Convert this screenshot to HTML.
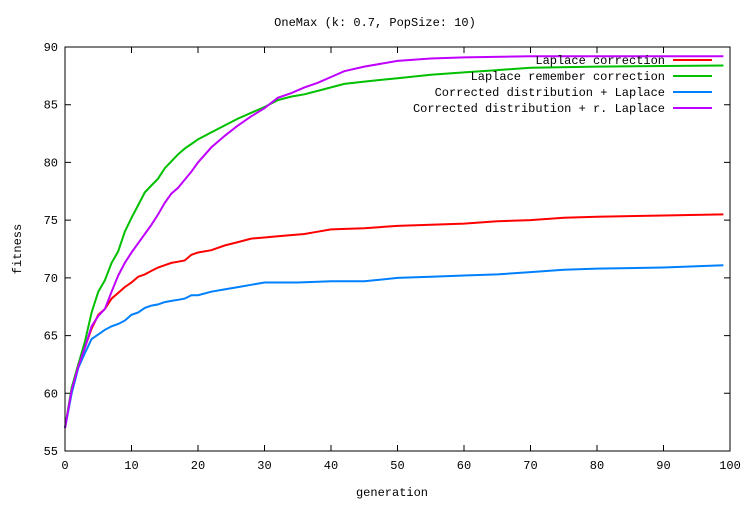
<!DOCTYPE html>
<html><head><meta charset="utf-8"><style>
body{margin:0;background:#fff}
svg text{font-family:"Liberation Mono","DejaVu Sans Mono",monospace;font-size:12px;fill:#000}
</style></head><body>
<svg id="chart" width="750" height="500">
<text x="375" y="26" text-anchor="middle">OneMax (k: 0.7, PopSize: 10)</text>
<g id="axes"></g><g id="series"></g><g id="legend"></g>
<rect x="65" y="47" width="665" height="404" fill="none" stroke="#000" stroke-width="1"/>
<text x="392" y="496" text-anchor="middle">generation</text>
<text transform="translate(21,249) rotate(-90)" text-anchor="middle">fitness</text>
</svg>
<script>
const xTicks=[0,10,20,30,40,50,60,70,80,90,100];
const yTicks=[55,60,65,70,75,80,85,90];
const seriesNames=["Laplace correction","Laplace remember correction","Corrected distribution + Laplace","Corrected distribution + r. Laplace"];
const seriesColors=["#ff0000","#00c000","#0080ff","#c000ff"];
const redGen=[0,1,2,3,4,5,6,7,8,9,10,11,12,13,14,15,16,17,18,19,20,22,24,26,28,30,32,34,36,38,40,45,50,55,60,65,70,75,80,90,99];
const redVal=[57,60.2,62.5,64,65.6,66.8,67.3,68.2,68.7,69.2,69.6,70.1,70.3,70.6,70.9,71.1,71.3,71.4,71.5,72,72.2,72.4,72.8,73.1,73.4,73.5,73.6,73.7,73.8,74,74.2,74.3,74.5,74.6,74.7,74.9,75,75.2,75.3,75.4,75.5];
const greenGen=[0,1,2,3,4,5,6,7,8,9,10,11,12,13,14,15,16,17,18,19,20,22,24,26,28,30,32,34,36,38,40,42,45,50,55,60,65,70,80,99];
const greenVal=[57,60.5,62.5,64.5,67,68.8,69.8,71.3,72.3,74,75.2,76.3,77.4,78,78.6,79.5,80.1,80.7,81.2,81.6,82,82.6,83.2,83.8,84.3,84.8,85.4,85.7,85.9,86.2,86.5,86.8,87,87.3,87.6,87.8,88,88.2,88.3,88.4];
const blueGen=[0,1,2,3,4,5,6,7,8,9,10,11,12,13,14,15,16,17,18,19,20,22,24,26,28,30,35,40,45,50,55,60,65,70,75,80,90,99];
const blueVal=[57,60,62.2,63.5,64.7,65.1,65.5,65.8,66,66.3,66.8,67,67.4,67.6,67.7,67.9,68,68.1,68.2,68.5,68.5,68.8,69,69.2,69.4,69.6,69.6,69.7,69.7,70,70.1,70.2,70.3,70.5,70.7,70.8,70.9,71.1];
const purpleGen=[0,1,2,3,4,5,6,7,8,9,10,11,12,13,14,15,16,17,18,19,20,22,24,26,28,30,32,34,36,38,40,42,45,50,55,60,70,99];
const purpleVal=[57,60.3,62.3,64,65.8,66.7,67.3,68.8,70.2,71.3,72.2,73,73.8,74.6,75.5,76.5,77.3,77.8,78.5,79.2,80,81.3,82.3,83.2,84,84.7,85.6,86,86.5,86.9,87.4,87.9,88.3,88.8,89,89.1,89.2,89.2];

const NS="http://www.w3.org/2000/svg";
const X0=65,X1=730,Y0=451,Y1=47;
const xs=v=>X0+(v-0)/(100-0)*(X1-X0);
const ys=v=>Y0-(v-55)/(90-55)*(Y0-Y1);
function mk(t,a,p){const e=document.createElementNS(NS,t);for(const k in a)e.setAttribute(k,a[k]);p.appendChild(e);return e;}
const axes=document.getElementById('axes');
xTicks.forEach(t=>{
  const x=xs(t);
  const l=mk('path',{d:`M${x},${Y0}v-6M${x},${Y1}v6`,stroke:'#000','stroke-width':1},axes);
  
  
  const tx=mk('text',{x:x,y:Y0+18,'text-anchor':'middle'},axes);tx.textContent=t;
  
  
});
yTicks.forEach(t=>{
  const y=ys(t);
  const l=mk('path',{d:`M${X0},${y}h6M${X1},${y}h-6`,stroke:'#000','stroke-width':1},axes);
  
  
  const tx=mk('text',{x:X0-7,y:y+4,'text-anchor':'end'},axes);tx.textContent=t;
  
  
});
const data=[[redGen,redVal],[greenGen,greenVal],[blueGen,blueVal],[purpleGen,purpleVal]];
const sg=document.getElementById('series');
data.forEach((d,i)=>{
  const pts=d[0].map((g,j)=>xs(g).toFixed(1)+','+ys(d[1][j]).toFixed(1)).join(' ');
  const p=mk('polyline',{points:pts,fill:'none',stroke:seriesColors[i],'stroke-width':2},sg);
  
  
});
const lg=document.getElementById('legend');
seriesNames.forEach((n,i)=>{
  const y=60+i*16;
  const tx=mk('text',{x:665,y:y+4,'text-anchor':'end'},lg);tx.textContent=n;
  
  
  const l=mk('line',{x1:673,x2:712,y1:y,y2:y,stroke:seriesColors[i],'stroke-width':2},lg);
  
  
});
</script>
</body></html>
